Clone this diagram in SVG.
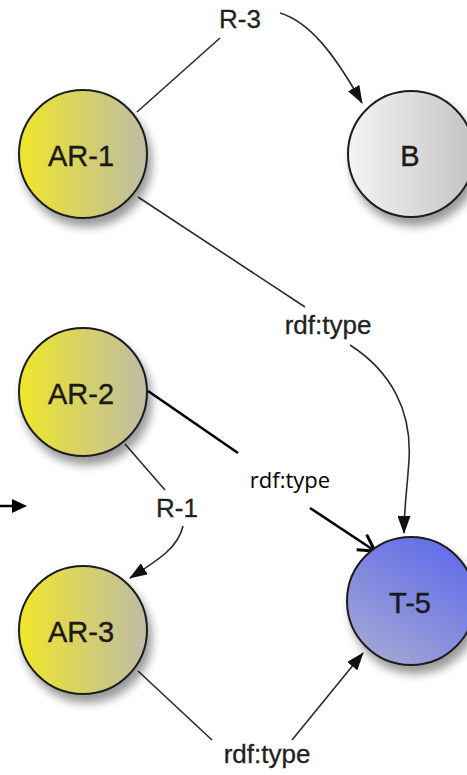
<svg xmlns="http://www.w3.org/2000/svg" width="467" height="775" viewBox="0 0 467 775">
<style>
.node circle{stroke:#1e1e1e;stroke-width:2}
.ntxt{font-family:"Liberation Sans",Arial,sans-serif;font-size:29px;fill:#1a1a1a;stroke:#1a1a1a;stroke-width:0.4;text-anchor:middle}
.etxt{font-family:"Liberation Sans",Arial,sans-serif;font-size:26px;fill:#222;stroke:#222;stroke-width:0.3;text-anchor:middle}
.ctxt{font-family:"Open Sans","Noto Sans",sans-serif;font-size:22px;fill:#000;text-anchor:middle}
.edge{fill:none;stroke:#2a2a2a;stroke-width:1.6}
.bold{fill:none;stroke:#000;stroke-width:2.6}
</style>
<defs>
<linearGradient id="gY" x1="0" y1="0" x2="1" y2="0"><stop offset="0" stop-color="#f0e62a"/><stop offset="1" stop-color="#bdbca6"/></linearGradient>
<linearGradient id="gB" x1="0" y1="0" x2="1" y2="0"><stop offset="0" stop-color="#f4f4f4"/><stop offset="1" stop-color="#c4c4c4"/></linearGradient>
<linearGradient id="gT" x1="0.8" y1="0" x2="0.2" y2="1"><stop offset="0" stop-color="#5e6aea"/><stop offset="1" stop-color="#a4a8d4"/></linearGradient>
<filter id="sh" x="-30%" y="-30%" width="170%" height="170%"><feGaussianBlur in="SourceAlpha" stdDeviation="5"/><feOffset dx="4" dy="8"/><feComponentTransfer><feFuncA type="linear" slope="0.4"/></feComponentTransfer><feMerge><feMergeNode/><feMergeNode in="SourceGraphic"/></feMerge></filter>
<marker id="ah" markerWidth="18" markerHeight="13" refX="17" refY="6.5" orient="auto" markerUnits="userSpaceOnUse"><path d="M0,0 L18,6.5 L0,13 Z" fill="#111"/></marker>
<marker id="ao" markerWidth="22" markerHeight="22" refX="20" refY="11" orient="auto" markerUnits="userSpaceOnUse"><path d="M4,2 L20,11 L4,20" fill="none" stroke="#000" stroke-width="3"/></marker>
</defs>
<g id="edges">
<path class="edge" d="M137,112 L220,38"/>
<path class="edge" d="M280,13 C310,22 335,55 362,103" marker-end="url(#ah)"/>
<path class="edge" d="M138,197 L305,307"/>
<path class="edge" d="M350,345 C392,372 412,412 409,460 C407,490 404,510 404,533" marker-end="url(#ah)"/>
<path class="bold" d="M148,391 L238,453"/>
<path class="bold" d="M310,508 L375,551" marker-end="url(#ao)"/>
<path class="edge" d="M125,444 L165,490"/>
<path class="edge" d="M183,526 C178,548 158,560 130,578" marker-end="url(#ah)"/>
<path class="edge" d="M138,671 L212,740"/>
<path class="edge" d="M292,740 L363,653" marker-end="url(#ah)"/>
<path d="M0,506 L14,506" stroke="#000" stroke-width="2.5" fill="none"/>
<path d="M12,499 L27,506 L12,513 Z" fill="#000"/>
<text class="etxt" x="240" y="28">R-3</text>
<text class="etxt" x="328" y="334">rdf:type</text>
<text class="ctxt" x="290" y="488">rdf:type</text>
<text class="etxt" x="177" y="517">R-1</text>
<text class="etxt" x="267" y="763">rdf:type</text>
</g>
<g id="AR-1" class="node"><circle cx="83" cy="154" r="64" fill="url(#gY)" filter="url(#sh)"/><text class="ntxt" x="81" y="166">AR-1</text></g>
<g id="B" class="node"><circle cx="411" cy="154" r="63" fill="url(#gB)" filter="url(#sh)"/><text class="ntxt" x="410" y="166">B</text></g>
<g id="AR-2" class="node"><circle cx="83" cy="392" r="64" fill="url(#gY)" filter="url(#sh)"/><text class="ntxt" x="81" y="404">AR-2</text></g>
<g id="AR-3" class="node"><circle cx="83" cy="630" r="64" fill="url(#gY)" filter="url(#sh)"/><text class="ntxt" x="81" y="642">AR-3</text></g>
<g id="T-5" class="node"><circle cx="411" cy="601" r="64" fill="url(#gT)" filter="url(#sh)"/><text class="ntxt" x="410" y="613">T-5</text></g>
</svg>
